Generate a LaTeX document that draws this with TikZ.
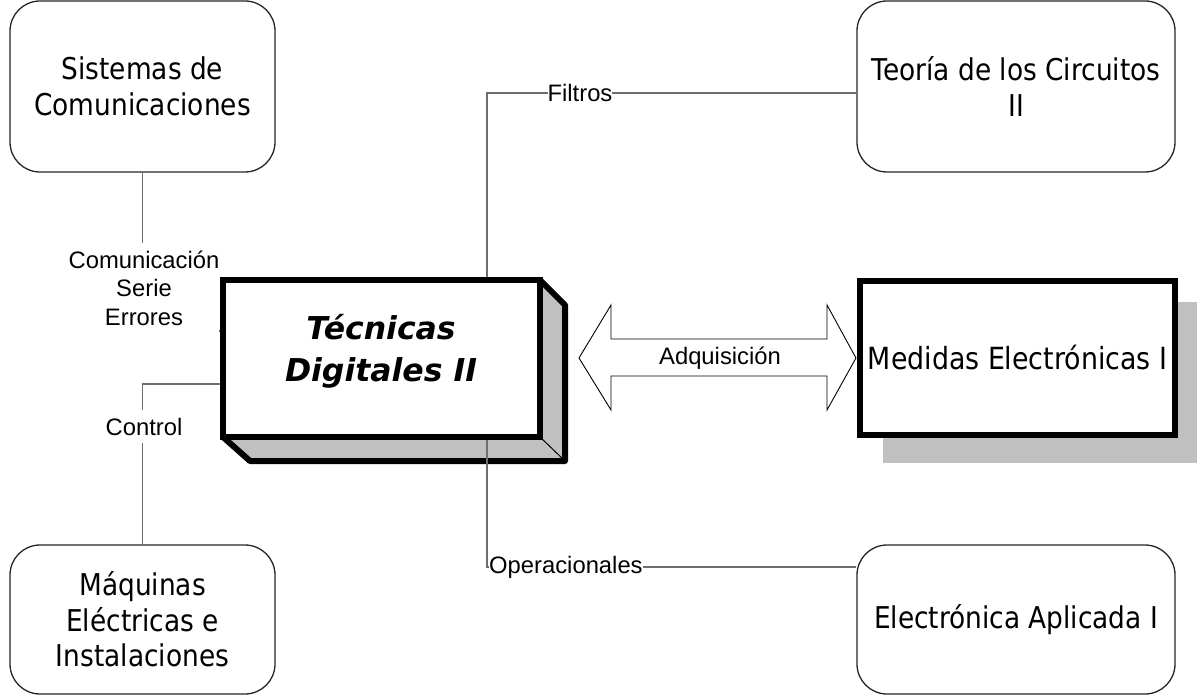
\documentclass[tikz,border=0pt]{standalone}
\usepackage{fontspec}
\setmainfont{Liberation Sans}
\newfontfamily\boxfont{DejaVu Sans}[FakeStretch=0.88]
\newfontfamily\tdfont{DejaVu Sans}
\definecolor{facegray}{RGB}{192,192,192}
\definecolor{conngray}{RGB}{110,110,110}
\begin{document}
\begin{tikzpicture}[x=1pt,y=-1pt,
  rbox/.style={draw=black!85, line width=1.3pt, rounded corners=30pt, fill=white,
    align=center, inner sep=0pt, font=\boxfont\fontsize{30}{35.5}\selectfont},
  conn/.style={draw=conngray, line width=1.2pt},
  lbl/.style={fill=white, inner sep=0pt, align=center,
    font=\fontsize{23.8}{28.4}\selectfont},
  thickbox/.style={draw=black, line width=6pt, fill=white, inner sep=0pt, align=center}]
\useasboundingbox (0,0) rectangle (1197,695);

% rounded boxes
\node[rbox, minimum width=265pt, minimum height=171pt] (sis) at (142.5,86.5) {Sistemas de\\Comunicaciones};
\node[rbox, minimum width=318pt, minimum height=171pt] (teo) at (1016,86.5) {Teoría de los Circuitos\\II};
\node[rbox, minimum width=265pt, minimum height=149pt] (maq) at (142.5,619.5) {Máquinas\\Eléctricas e\\Instalaciones};
\node[rbox, minimum width=318pt, minimum height=149pt] (ele) at (1016,619.5) {Electrónica Aplicada I};

% shadow + Medidas box
\fill[facegray] (883,302) rectangle (1197,463);
\node[thickbox, minimum width=315pt, minimum height=154pt,
  font=\boxfont\fontsize{30.5}{35.5}\selectfont] (med) at (1017.5,358) {Medidas Electrónicas I};

% 3D box faces
\fill[facegray] (223,437) -- (540,437) -- (565,461) -- (250,461) -- cycle;
\fill[facegray] (540,280) -- (565,305) -- (565,461) -- (540,437) -- cycle;
\draw[line width=6pt, line join=round] (540,280) -- (565,305) -- (565,461) -- (250,461) -- (223,437);
\draw[line width=1pt] (540,437) -- (565,461);

% connectors
\draw[conn] (sis.south) -- (142.5,331) -- (220,331);
\draw[conn] (220,384) -- (142.5,384) -- (maq.north);
\draw[conn] (487,280) -- (487,93) -- (teo.west |- 0,93);
\draw[conn] (487,440) -- (487,567) -- (ele.west |- 0,567);

% connector labels
\node[lbl, minimum width=143pt, minimum height=90pt] (lcom) at (144,288)
  {Comunicación\\Serie\\Errores};
\node[lbl, minimum width=80pt, minimum height=33pt] (lctl) at (144,426.5) {Control};
\node[lbl] (lfil) at (580,93) {Filtros};
\node[lbl, anchor=west] (lope) at (489,567) {Operacionales};

% front face of main box
\node[thickbox, minimum width=317pt, minimum height=157pt] (td) at (381.5,358.5) {};
\node[font=\tdfont\bfseries\itshape\fontsize{31.5}{42}\selectfont, align=center, inner sep=0pt]
  (tdt) at (381,351) {Técnicas\\Digitales II};

% double arrow
\draw[line width=0.9pt, fill=white] (579,358) -- (611,305) -- (611,339) -- (827,339) -- (827,305)
  -- (856,358) -- (827,410) -- (827,376) -- (611,376) -- (611,410) -- cycle;
\node[font=\fontsize{23.8}{28.4}\selectfont, inner sep=0pt] (ladq) at (720,358) {Adquisición};
\end{tikzpicture}
\end{document}
